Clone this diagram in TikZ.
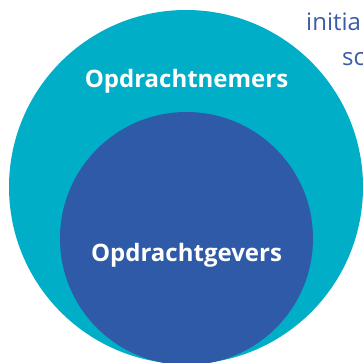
\documentclass[tikz,border=0pt]{standalone}
\usepackage{fontspec}
\setmainfont{Open Sans}
\definecolor{teal1}{HTML}{00AEC7}
\definecolor{blue1}{HTML}{2F5AA8}
\definecolor{txtblue}{HTML}{3A5CA9}
\begin{document}
\begin{tikzpicture}[x=1pt,y=-1pt,
  lbl/.style={text=white,font=\fontsize{24}{28}\selectfont\bfseries,inner sep=0pt,anchor=base},
  side/.style={text=txtblue,font=\fontsize{24}{28}\selectfont,inner sep=0pt,anchor=base west}]
\useasboundingbox (0,0) rectangle (363,362);
\clip (0,0) rectangle (363,362);
\fill[teal1] (186,187) circle (177);
\fill[blue1] (186.5,238.5) circle (126.5);
\node[lbl] (nemers) at (186.5,87) {Opdrachtnemers};
\node[lbl] (gevers) at (186.5,261) {Opdrachtgevers};
\node[side] (initia) at (306,30) {initia};
\node[side] (sc) at (342,65) {sc};
\end{tikzpicture}
\end{document}
